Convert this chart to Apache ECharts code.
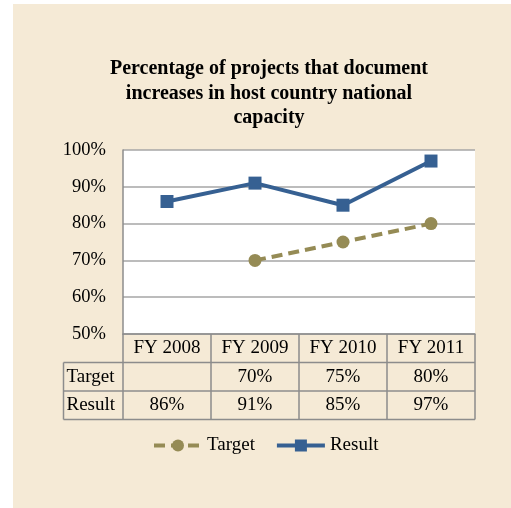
<!DOCTYPE html>
<html>
<head>
<meta charset="utf-8">
<script src="https://cdn.jsdelivr.net/npm/echarts@6/dist/echarts.min.js"></script>
<style>
  html, body { margin: 0; padding: 0; background: #fff; }
  #chart { width: 511px; height: 508px; }
</style>
</head>
<body>
<div id="chart"></div>
<script>
// data
var categories = ['FY 2008', 'FY 2009', 'FY 2010', 'FY 2011'];
var targetValues = [null, 70, 75, 80];
var resultValues = [86, 91, 85, 97];
var rowNames = ['Target', 'Result'];
var yMin = 50, yMax = 100, yStep = 10;

var serif = '"Liberation Serif", "DejaVu Serif", serif';
var gold = '#958b55';
var blue = '#366092';
var tableLine = '#8c8c8c';
var rowH = 28.5;

function pct(v) { return v == null ? '' : v + '%'; }

var myChart = echarts.init(document.getElementById('chart'));

// one x axis per table row: header, target values, result values
function rowAxis(idx, values) {
	return {
		type: 'category',
		data: categories,
		position: 'bottom',
		offset: rowH * idx,
		boundaryGap: true,
		axisLine: { show: false },
		axisTick: { show: false },
		axisLabel: {
			margin: 5,
			color: '#000',
			fontFamily: serif,
			fontSize: 19,
			formatter: function (v, i) { return pct(values[i]); }
		}
	};
}

var option = {
	backgroundColor: '#fff',
	animation: false,
	title: {
		text: 'Percentage of projects that document\nincreases in host country national\ncapacity',
		left: 264,
		top: 52,
		textAlign: 'center',
		textStyle: {
			fontFamily: serif,
			fontWeight: 'bold',
			fontSize: 20,
			lineHeight: 24.5,
			color: '#000'
		}
	},
	legend: {
		left: 147,
		top: 431,
		itemWidth: 48,
		itemHeight: 15,
		itemGap: 20,
		lineStyle: { width: 4 },
		textStyle: { fontFamily: serif, fontSize: 19, color: '#000' },
		data: rowNames
	},
	grid: {
		left: 123,
		right: 36,
		top: 150,
		bottom: 174,
		show: true,
		backgroundColor: '#fff',
		borderWidth: 0
	},
	xAxis: [
		{
			type: 'category',
			data: categories,
			position: 'bottom',
			boundaryGap: true,
			axisLine: { show: true, lineStyle: { color: tableLine, width: 1.5 } },
			axisTick: {
				show: true,
				interval: 0,
				length: rowH * 3,
				lineStyle: { color: tableLine, width: 1.5 }
			},
			axisLabel: {
				margin: 5,
				color: '#000',
				fontFamily: serif,
				fontSize: 19
			}
		},
		rowAxis(1, targetValues),
		rowAxis(2, resultValues)
	],
	yAxis: {
		type: 'value',
		min: yMin,
		max: yMax,
		interval: yStep,
		axisLine: { show: true, lineStyle: { color: tableLine, width: 1.5 } },
		axisTick: { show: false },
		splitLine: { lineStyle: { color: '#a6a6a6', width: 1.5 } },
		axisLabel: {
			margin: 17,
			color: '#000',
			fontFamily: serif,
			fontSize: 18.5,
			formatter: '{value}%'
		}
	},
	series: [
		{
			name: rowNames[0],
			type: 'line',
			data: targetValues,
			symbol: 'circle',
			symbolSize: 13,
			itemStyle: { color: gold },
			lineStyle: { color: gold, width: 4, type: [11, 6] },
			z: 3
		},
		{
			name: rowNames[1],
			type: 'line',
			data: resultValues,
			symbol: 'rect',
			symbolSize: 13,
			itemStyle: { color: blue },
			lineStyle: { color: blue, width: 4 },
			z: 4
		}
	]
};
myChart.setOption(option);

// beige panel + the table's row-header column, placed from the axis scales
var c0 = myChart.convertToPixel({ xAxisIndex: 0 }, categories[0]);
var c1 = myChart.convertToPixel({ xAxisIndex: 0 }, categories[1]);
var band = c1 - c0;
var xLeft = c0 - band / 2;
var xRight = xLeft + band * categories.length;
var yBase = myChart.convertToPixel({ yAxisIndex: 0 }, yMin);
var colLeft = 63.5;

var graphics = [{
	type: 'rect',
	shape: { x: 13, y: 4, width: 498, height: 504 },
	style: { fill: '#f5ead6' },
	z: -10, silent: true
}];
for (var r = 1; r <= 3; r++) {
	var y = yBase + rowH * r;
	graphics.push({
		type: 'line',
		shape: { x1: colLeft, y1: y, x2: xRight, y2: y },
		style: { stroke: tableLine, lineWidth: 1.5 },
		z: 10
	});
}
graphics.push({
	type: 'line',
	shape: { x1: colLeft, y1: yBase + rowH, x2: colLeft, y2: yBase + rowH * 3 },
	style: { stroke: tableLine, lineWidth: 1.5 },
	z: 10
});
rowNames.forEach(function (name, i) {
	graphics.push({
		type: 'text',
		x: colLeft + 3,
		y: yBase + rowH * (i + 1.5),
		style: {
			text: name,
			font: '19px ' + serif,
			fill: '#000',
			textVerticalAlign: 'middle'
		},
		z: 10
	});
});
myChart.setOption({ graphic: graphics });
</script>
</body>
</html>
